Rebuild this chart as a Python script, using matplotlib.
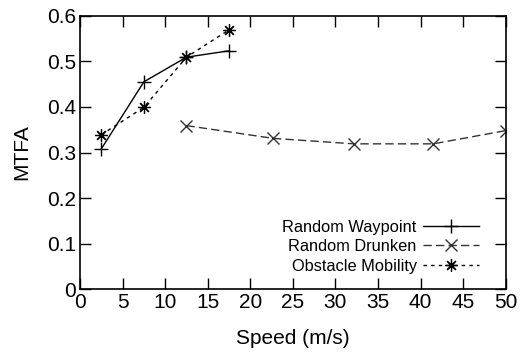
import matplotlib
matplotlib.use("Agg")
import matplotlib.pyplot as plt

plt.rcParams['font.family'] = ['Liberation Sans', 'DejaVu Sans']

# Data
wp_x = [2.5, 7.5, 12.5, 17.5]
wp_y = [0.308, 0.455, 0.509, 0.523]
dr_x = [12.5, 22.7, 32.2, 41.5, 50.0]
dr_y = [0.359, 0.331, 0.319, 0.319, 0.348]
ob_x = [2.5, 7.5, 12.5, 17.5]
ob_y = [0.339, 0.399, 0.509, 0.569]
labels = ["Random Waypoint", "Random Drunken", "Obstacle Mobility"]
xticks = [0, 5, 10, 15, 20, 25, 30, 35, 40, 45, 50]
yticks = [0, 0.1, 0.2, 0.3, 0.4, 0.5, 0.6]
ytick_labels = ["0", "0.1", "0.2", "0.3", "0.4", "0.5", "0.6"]

fig = plt.figure(figsize=(5.21, 3.55), dpi=100)
ax = fig.add_axes([0.1536, 0.185, 0.9706 - 0.1536, 0.9558 - 0.185])

ax.plot(wp_x, wp_y, color='black', lw=1.0, ls='-', marker='+', ms=10, mew=1.0, label=labels[0])
ax.plot(dr_x, dr_y, color='#333333', lw=1.0, ls=(0, (6, 3)), marker='x', ms=8, mew=1.0, label=labels[1])
ax.plot(ob_x, ob_y, color='black', lw=1.0, ls=(0, (2.5, 3)), marker=(8, 2, 0), ms=9, mew=0.9, label=labels[2])

ax.set_xlim(0, 50)
ax.set_ylim(0, 0.6)
ax.set_xticks(xticks)
ax.set_xticklabels([str(t) for t in xticks])
ax.set_yticks(yticks)
ax.set_yticklabels(ytick_labels)
ax.tick_params(direction='in', length=8, width=1.0, top=True, right=True, labelsize=15, pad=3)
for s in ax.spines.values():
    s.set_linewidth(1.2)
ax.set_xlabel("Speed (m/s)", fontsize=15, labelpad=12)
ax.set_ylabel("MTFA", fontsize=15, labelpad=11)

leg = ax.legend(loc='lower right', bbox_to_anchor=(0.945, 0.045), markerfirst=False, frameon=False,
                fontsize=11.8, handlelength=3.4, handletextpad=0.4, labelspacing=0.28,
                borderpad=0.2, borderaxespad=0)

fig.savefig("out.png", dpi=100)
